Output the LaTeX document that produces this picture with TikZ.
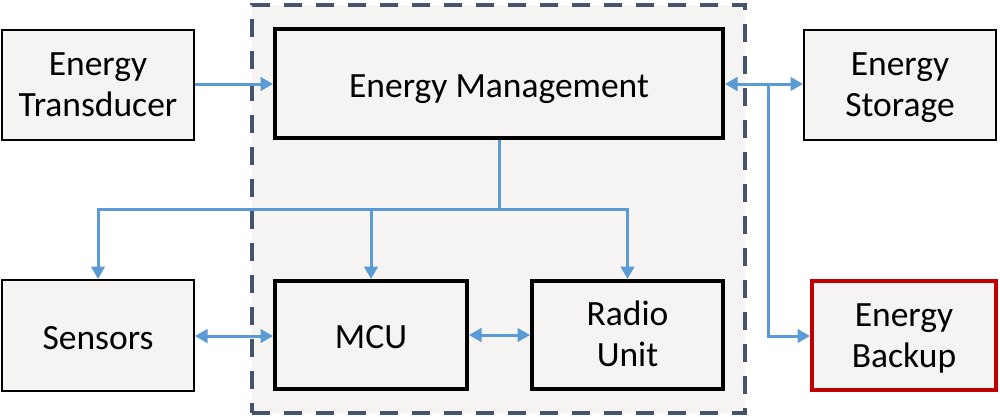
\documentclass[tikz,border=0pt]{standalone}
\usepackage{fontspec}
\setmainfont{Carlito}
\usetikzlibrary{arrows.meta}
\definecolor{boxfill}{HTML}{F5F4F2}
\definecolor{linkblue}{HTML}{5B9BD5}
\definecolor{frameslate}{HTML}{44546A}
\definecolor{backupred}{HTML}{C00000}
% fixed line extents so two-line labels sit evenly in their boxes
\newcommand\firstline{\rule{0pt}{30pt}}
\newcommand\lastline{\rule[-8pt]{0pt}{8pt}}
\tikzset{
  block/.style={draw=black, fill=boxfill, line width=2pt, align=center,
    inner sep=0pt, font=\fontsize{35.5}{41}\selectfont},
  oneline/.style={text height=35pt, text depth=8pt},
  core/.style={block, line width=4pt},
  alert/.style={block, draw=backupred, line width=4pt},
  link/.style={draw=linkblue, line width=3pt, -{Triangle[length=12.5pt,width=13.5pt]}},
  duplex/.style={draw=linkblue, line width=3pt,
    {Triangle[length=12.5pt,width=13.5pt]}-{Triangle[length=12.5pt,width=13.5pt]}},
  plain/.style={draw=linkblue, line width=3pt},
}
\begin{document}
\begin{tikzpicture}[x=1pt,y=-1pt]
  \useasboundingbox (0,0) rectangle (1000,416);
  % node container
  \node[draw=frameslate, fill=boxfill, line width=3.5pt,
        dash pattern=on 18pt off 14pt, minimum width=493pt, minimum height=408pt,
        inner sep=0pt] (node) at (498.5,209) {};
  % blocks
  \node[block, minimum width=192pt, minimum height=110pt] (trans) at (98,85) {\firstline Energy\\Transducer\lastline};
  \node[core, oneline, minimum width=448pt, minimum height=109pt] (mgmt) at (499,83.5) {Energy Management};
  \node[block, minimum width=192pt, minimum height=110pt] (store) at (900,85) {\firstline Energy\\Storage\lastline};
  \node[block, oneline, minimum width=192pt, minimum height=111pt] (sens) at (98,335.5) {Sensors};
  \node[core, oneline, minimum width=192pt, minimum height=108pt] (mcu) at (371,335) {MCU};
  \node[core, minimum width=191pt, minimum height=108pt] (radio) at (627.5,335) {\firstline Radio\\Unit\lastline};
  \node[alert, minimum width=184pt, minimum height=109pt] (backup) at (904,335.5) {\firstline Energy\\Backup\lastline};
  % power links
  \draw[link] (trans.east |- 0,84) -- (mgmt.west |- 0,84);
  \draw[duplex] (mgmt.east |- 0,84) -- (store.west |- 0,84);
  \coordinate (tap) at (768,84);
  \draw[link] (tap) |- (backup.west |- 0,336);
  \coordinate (split) at (499,209);
  \draw[plain] (mgmt.south -| split) -- (split);
  \draw[link] (split) -| (sens.north);
  \draw[link] (split) -| (mcu.north);
  \draw[link] (split) -| (radio.north);
  % data links
  \draw[duplex] (sens.east |- 0,336) -- (mcu.west |- 0,336);
  \draw[duplex] (mcu.east |- 0,335) -- (radio.west |- 0,335);
\end{tikzpicture}
\end{document}
